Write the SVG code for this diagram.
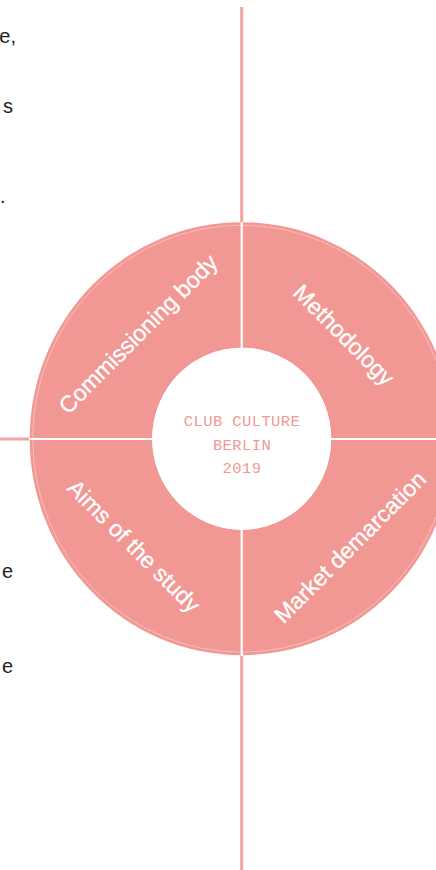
<svg xmlns="http://www.w3.org/2000/svg" width="436" height="870" viewBox="0 0 436 870">
<style>
.ax{stroke:#f4a3a3;stroke-width:3;fill:none}
.seg{fill:#f29894}
.sep{stroke:#ffffff;stroke-width:2.2;fill:none}
.rim{stroke:#ffffff;stroke-opacity:0.45;stroke-width:0.8;fill:none}
.lbl{font-family:"Liberation Sans",Arial,sans-serif;font-size:23px;fill:#ffffff;text-anchor:middle;dominant-baseline:central;stroke:#ffffff;stroke-width:0.3}
.ctr{font-family:"Liberation Mono","DejaVu Sans Mono",monospace;font-size:15.5px;fill:#f29894;text-anchor:middle;letter-spacing:0.4px}
.frag{font-family:"Liberation Sans",Arial,sans-serif;font-size:20px;fill:#222222;text-anchor:end}
</style>
<rect width="436" height="870" fill="#ffffff"/>
<g id="text-fragments">
<text class="frag" x="16" y="43">e,</text>
<text class="frag" x="13" y="113">s</text>
<text class="frag" x="5.5" y="203">.</text>
<text class="frag" x="13" y="578">e</text>
<text class="frag" x="13" y="673">e</text>
</g>
<g id="connectors">
<line class="ax" x1="241.7" y1="7" x2="241.7" y2="870"/>
<line class="ax" x1="0" y1="439" x2="436" y2="439"/>
</g>
<g id="commissioning-body">
<path class="seg" d="M29.7 438.7 A212 216.5 0 0 1 241.7 222.2 L241.7 347.7 A89.5 91 0 0 0 152.2 438.7 Z"/>
<text class="lbl" transform="translate(138 334) rotate(-45)">Commissioning body</text>
</g>
<g id="methodology">
<path class="seg" d="M241.7 222.2 A212 216.5 0 0 1 453.7 438.7 L331.2 438.7 A89.5 91 0 0 0 241.7 347.7 Z"/>
<text class="lbl" transform="translate(344 335) rotate(45)">Methodology</text>
</g>
<g id="aims-of-the-study">
<path class="seg" d="M29.7 438.7 A212 216.5 0 0 0 241.7 655.2 L241.7 529.7 A89.5 91 0 0 1 152.2 438.7 Z"/>
<text class="lbl" transform="translate(134 546) rotate(45)">Aims of the study</text>
</g>
<g id="market-demarcation">
<path class="seg" d="M241.7 655.2 A212 216.5 0 0 0 453.7 438.7 L331.2 438.7 A89.5 91 0 0 1 241.7 529.7 Z"/>
<text class="lbl" transform="translate(350 547) rotate(-45)">Market demarcation</text>
</g>
<g id="separators">
<ellipse class="rim" cx="241.7" cy="438.7" rx="209" ry="213.5"/>
<line class="sep" x1="241.7" y1="222" x2="241.7" y2="348"/>
<line class="sep" x1="241.7" y1="529" x2="241.7" y2="656"/>
<line class="sep" x1="29" y1="439" x2="153" y2="439"/>
<line class="sep" x1="331" y1="439" x2="436" y2="439"/>
</g>
<g id="center">
<ellipse cx="241.7" cy="438.7" rx="89.5" ry="91" fill="#ffffff"/>
<text class="ctr" x="242" y="426">CLUB CULTURE</text>
<text class="ctr" x="242" y="450">BERLIN</text>
<text class="ctr" x="242" y="473">2019</text>
</g>
</svg>
